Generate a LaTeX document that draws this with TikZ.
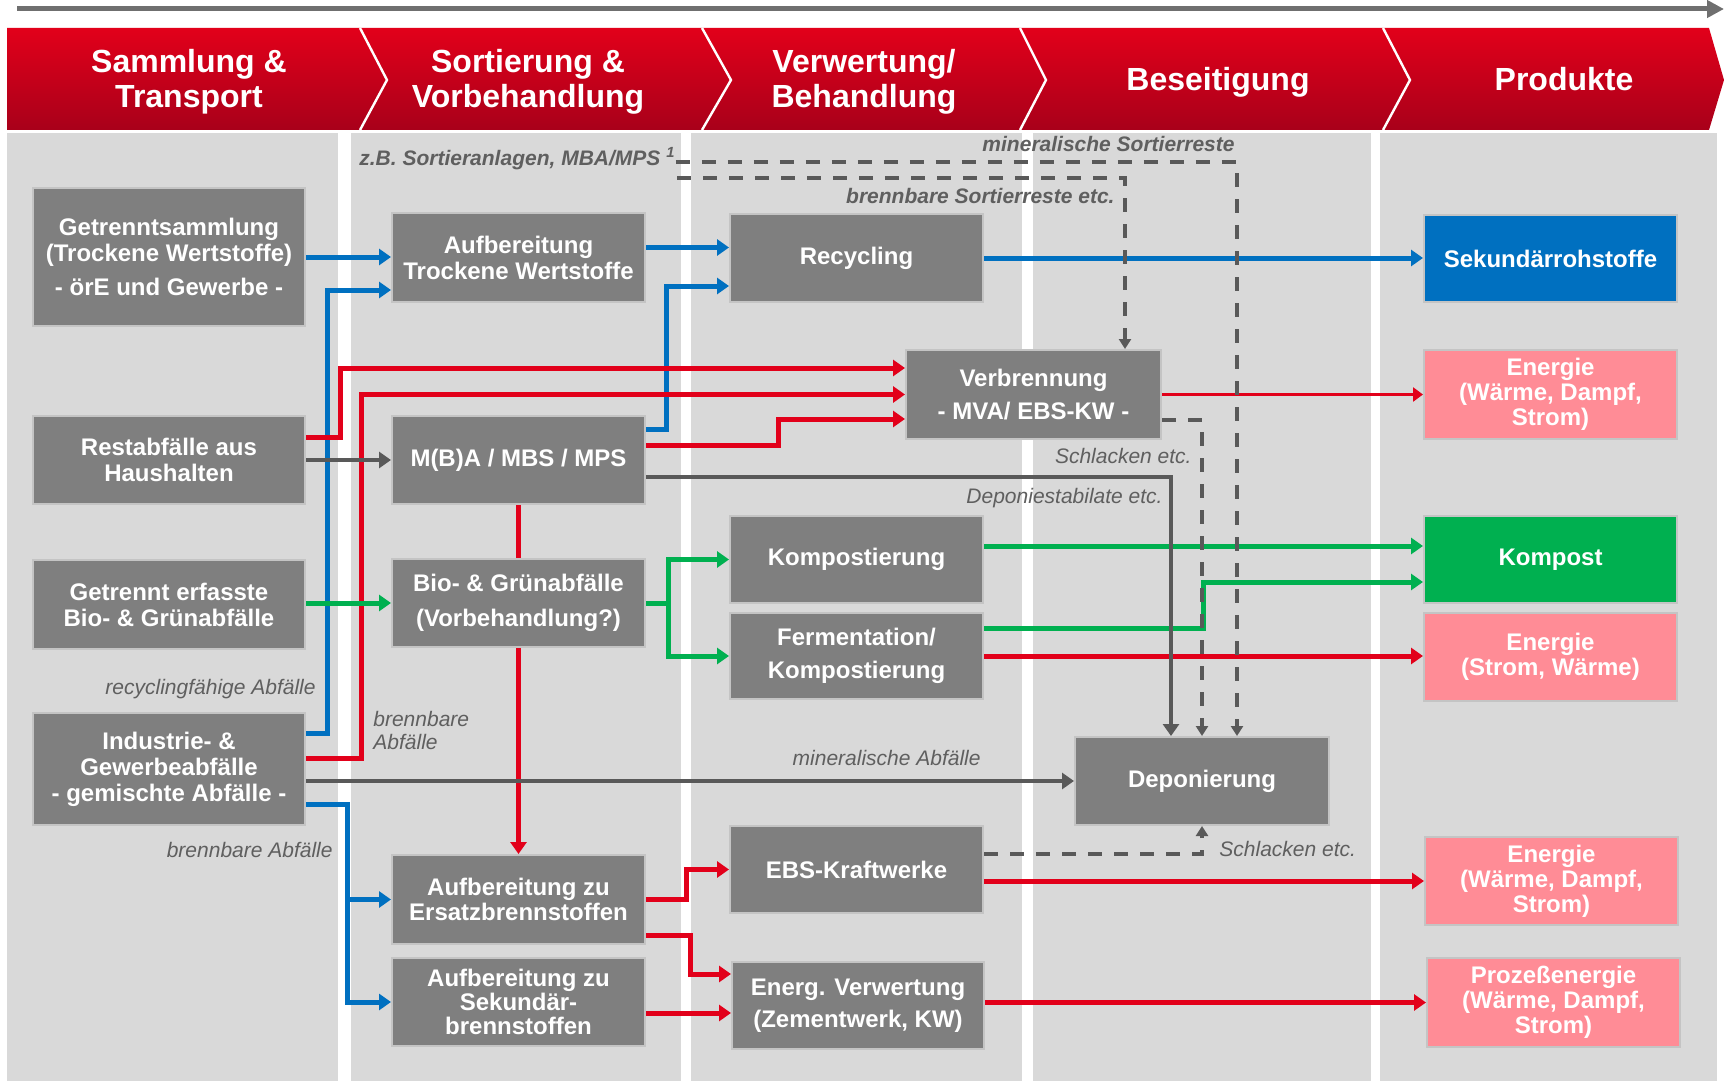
\documentclass[tikz,border=0pt]{standalone}
\usepackage{fontspec}
\setmainfont{Liberation Sans}
\usetikzlibrary{arrows.meta}

\definecolor{panelgray}{HTML}{D9D9D9}
\definecolor{boxgray}{HTML}{7F7F7F}
\definecolor{edgegray}{HTML}{C4C4C4}
\definecolor{linegray}{HTML}{595959}
\definecolor{notegray}{HTML}{5F5F5F}
\definecolor{timegray}{HTML}{6F6F6F}
\definecolor{flowred}{HTML}{E2001A}
\definecolor{flowblue}{HTML}{0070C0}
\definecolor{flowgreen}{HTML}{00B050}
\definecolor{pinkbox}{HTML}{FF8C96}
\definecolor{bannertop}{HTML}{E2001A}
\definecolor{bannerbot}{HTML}{A8001A}

\pgfdeclarelayer{panels}
\pgfdeclarelayer{links}
\pgfsetlayers{panels,links,main}

\begin{document}
\begin{tikzpicture}[x=0.5pt, y=-0.5pt,
  box/.style={draw=edgegray, line width=1pt, fill=boxgray, text=white,
    font=\bfseries\fontsize{12}{13}\selectfont, align=center, inner sep=0pt},
  product/.style={box, fill=pinkbox, font=\bfseries\fontsize{12}{12.4}\selectfont},
  tight/.style={font=\bfseries\fontsize{12}{12.2}\selectfont},
  phase/.style={text=white, font=\bfseries\fontsize{16}{17.5}\selectfont, align=center},
  note/.style={text=notegray, inner sep=0pt, font=\itshape\fontsize{10.5}{11.5}\selectfont},
  bnote/.style={note, font=\bfseries\itshape\fontsize{10.5}{11.5}\selectfont},
  flow/.style={line width=2.5pt, -{Triangle[width=8pt,length=6pt]}},
  blueflow/.style={flow, draw=flowblue},
  redflow/.style={flow, draw=flowred},
  greenflow/.style={flow, draw=flowgreen},
  grayflow/.style={flow, line width=2.3pt, draw=linegray},
  dashflow/.style={line width=2pt, draw=linegray, dash pattern=on 7pt off 6pt,
    -{Triangle[width=6pt,length=5pt]}},
]
\useasboundingbox (0,0) rectangle (1725,1081);

% panels and banner
\begin{pgfonlayer}{panels}
  \fill[panelgray] (7,133) rectangle (338,1081);
  \fill[panelgray] (351,133) rectangle (681,1081);
  \fill[panelgray] (691,133) rectangle (1022,1081);
  \fill[panelgray] (1033,133) rectangle (1371,1081);
  \fill[panelgray] (1380,133) rectangle (1717,1081);
  \shade[top color=bannertop, bottom color=bannerbot]
    (7,28) -- (360,28) -- (387,80) -- (360,130) -- (7,130) -- cycle;
  \shade[top color=bannertop, bottom color=bannerbot]
    (360,28) -- (702,28) -- (731,80) -- (702,130) -- (360,130) -- (387,80) -- cycle;
  \shade[top color=bannertop, bottom color=bannerbot]
    (702,28) -- (1020,28) -- (1046,80) -- (1020,130) -- (702,130) -- (731,80) -- cycle;
  \shade[top color=bannertop, bottom color=bannerbot]
    (1020,28) -- (1383,28) -- (1410,80) -- (1383,130) -- (1020,130) -- (1046,80) -- cycle;
  \shade[top color=bannertop, bottom color=bannerbot]
    (1383,28) -- (1709,28) -- (1724,80) -- (1709,130) -- (1383,130) -- (1410,80) -- cycle;
  \draw[white, line width=1.2pt] (360,28) -- (387,80) -- (360,130);
  \draw[white, line width=1.2pt] (702,28) -- (731,80) -- (702,130);
  \draw[white, line width=1.2pt] (1020,28) -- (1046,80) -- (1020,130);
  \draw[white, line width=1.2pt] (1383,28) -- (1410,80) -- (1383,130);
\end{pgfonlayer}

\coordinate (tl) at (17,9);
\coordinate (tr) at (1724,9);
\draw[timegray, line width=2.5pt, -{Triangle[width=8.5pt,length=8.5pt]}] (tl) -- (tr);

\node[phase] (sammlung) at (189,81.5) {Sammlung \&\\Transport};
\node[phase] (sortierung) at (528,81.5) {Sortierung \&\\Vorbehandlung};
\node[phase] (verwertung) at (864,81.5) {Verwertung/\\Behandlung};
\node[phase, anchor=base] (beseitigung) at (1218,90.5) {Beseitigung};
\node[phase, anchor=base] (produkte) at (1564,90.5) {Produkte};

% sources
\node[box, minimum width=136pt, minimum height=69pt] (getr) at (169,257)
  {Getrenntsammlung\\(Trockene Wertstoffe)\\[4pt]- örE und Gewerbe -};
\node[box, minimum width=136pt, minimum height=44pt] (rest) at (169,460)
  {Restabfälle aus\\Haushalten};
\node[box, minimum width=136pt, minimum height=44.5pt] (bioin) at (169,604.5)
  {Getrennt erfasste\\Bio- \& Grünabfälle};
\node[box, minimum width=136pt, minimum height=56pt] (indu) at (169,769)
  {Industrie- \&\\Gewerbeabfälle\\- gemischte Abfälle -};

% sorting
\node[box, minimum width=126.5pt, minimum height=44.5pt] (trocken) at (518.5,257.5)
  {Aufbereitung\\Trockene Wertstoffe};
\node[box, minimum width=126.5pt, minimum height=44pt] (mba) at (518.5,460)
  {M(B)A / MBS / MPS};
\node[box, minimum width=126.5pt, minimum height=44pt] (bio) at (518.5,603)
  {Bio- \& Grünabfälle\\[4.5pt](Vorbehandlung?)};
\node[box, tight, minimum width=126.5pt, minimum height=44.5pt] (ersatz) at (518.5,899.5)
  {Aufbereitung zu\\Ersatzbrennstoffen};
\node[box, tight, minimum width=126.5pt, minimum height=44pt] (sekbr) at (518.5,1002)
  {Aufbereitung zu\\Sekundär-\\brennstoffen};

% treatment
\node[box, minimum width=126.5pt, minimum height=44pt] (recyc) at (856.5,258) {Recycling};
\node[box, minimum width=127.5pt, minimum height=44.5pt] (verbr) at (1033.5,394.5)
  {Verbrennung\\[3.5pt]- MVA/ EBS-KW -};
\node[box, minimum width=126.5pt, minimum height=43.5pt] (kompo) at (856.5,559.5) {Kompostierung};
\node[box, minimum width=126.5pt, minimum height=43pt] (ferm) at (856.5,656)
  {Fermentation/\\[3.5pt]Kompostierung};
\node[box, minimum width=126.5pt, minimum height=43.5pt] (ebs) at (856.5,869.5) {EBS-Kraftwerke};
\node[box, minimum width=126pt, minimum height=43.5pt] (energ) at (858,1005.5)
  {Energ. Verwertung\\[3pt](Zementwerk, KW)};

% disposal
\node[box, minimum width=127pt, minimum height=44pt] (depon) at (1202,781) {Deponierung};

% products
\node[box, fill=flowblue, minimum width=126.5pt, minimum height=43.5pt] (sek) at (1550.5,258.5)
  {Sekundärrohstoffe};
\node[product, minimum width=126.5pt, minimum height=44.5pt] (en1) at (1550.5,394.5)
  {Energie\\(Wärme, Dampf,\\Strom)};
\node[box, fill=flowgreen, minimum width=126.5pt, minimum height=43.5pt] (kompost) at (1550.5,559.5)
  {Kompost};
\node[product, minimum width=126.5pt, minimum height=44pt] (en2) at (1550.5,657)
  {Energie\\(Strom, Wärme)};
\node[product, minimum width=126.5pt, minimum height=44pt] (en3) at (1551.5,881)
  {Energie\\(Wärme, Dampf,\\Strom)};
\node[product, minimum width=126.5pt, minimum height=44.5pt] (proz) at (1553.5,1002.5)
  {Prozeßenergie\\(Wärme, Dampf,\\Strom)};

% labels
\node[bnote, anchor=base west] (zb) at (359,165) {z.B. Sortieranlagen, MBA/MPS \textsuperscript{1}};
\node[bnote, anchor=base east] (minsort) at (1235,152) {mineralische Sortierreste};
\node[bnote, anchor=base east] (brsort) at (1115,204) {brennbare Sortierreste etc.};
\node[note, anchor=base east] (recyl) at (316,694) {recyclingfähige Abfälle};
\node[note, anchor=north west, align=left] (brab) at (373,711) {brennbare\\Abfälle};
\node[note, anchor=base east] (brab2) at (333,857) {brennbare Abfälle};
\node[note, anchor=base east] (minab) at (981,765) {mineralische Abfälle};
\node[note, anchor=base east] (depst) at (1163,503) {Deponiestabilate etc.};
\node[note, anchor=base east] (schl1) at (1192,463) {Schlacken etc.};
\node[note, anchor=base west] (schl2) at (1219,856) {Schlacken etc.};

\coordinate (brs) at (677,178);

\begin{pgfonlayer}{links}
  % blue
  \draw[blueflow] (getr.east) -- (getr.east -| trocken.west);
  \draw[blueflow] ([yshift=18pt]indu.east) -- ++(21,0) |- ([yshift=-16.25pt]trocken.west);
  \draw[blueflow] ([yshift=15.5pt]mba.east) -- ++(20,0) |- ([yshift=-14pt]recyc.west);
  \draw[blueflow] ([yshift=5pt]trocken.east) -- ([yshift=5pt]trocken.east -| recyc.west);
  \draw[blueflow] (recyc.east) -- (recyc.east -| sek.west);
  \draw[blueflow] ([yshift=-17.5pt]indu.east) -| ([xshift=-22pt]sekbr.west) -- (sekbr.west);
  \draw[blueflow] ([xshift=-22pt]ersatz.west) -- (ersatz.west);
  % red
  \draw[redflow] ([yshift=11.5pt]rest.east) -- ++(34,0) |- ([yshift=13.25pt]verbr.west);
  \draw[redflow] ([yshift=5.5pt]indu.east) -- ++(55,0) |- (verbr.west);
  \draw[redflow] ([yshift=7.5pt]mba.east) -- ++(132,0) |- ([yshift=-12.25pt]verbr.west);
  \draw[redflow, line width=1.5pt, -{Triangle[width=7pt,length=5pt]}] (verbr.east) -- (verbr.east -| en1.west);
  \draw[redflow] (mba.south) -- (ersatz.north);
  \draw[redflow] (ersatz.east) -- ++(40,0) |- (ebs.west);
  \draw[redflow] ([yshift=-17.75pt]ersatz.east) -- ++(44,0) |- ([yshift=15.75pt]energ.west);
  \draw[redflow] ([yshift=-5.5pt]sekbr.east) -- ([yshift=-5.5pt]sekbr.east -| energ.west);
  \draw[redflow] (ferm.east) -- (ferm.east -| en2.west);
  \draw[redflow] ([yshift=-5.75pt]ebs.east) -- (en3.west);
  \draw[redflow] (proz.west -| energ.east) -- (proz.west);
  % green
  \draw[greenflow] (bio.west -| bioin.east) -- (bio.west);
  \draw[greenflow] (bio.east) -- ++(22,0) |- (kompo.west);
  \draw[greenflow] (bio.east) -- ++(22,0) |- (ferm.west);
  \draw[greenflow] ([yshift=6.75pt]kompo.east) -- ([yshift=6.75pt]kompost.west);
  \draw[greenflow] ([yshift=14pt]ferm.east) -- ++(219,0) |- ([yshift=-11.25pt]kompost.west);
  % gray
  \draw[grayflow] (rest.east) -- (mba.west);
  \draw[grayflow] ([yshift=-8.5pt]mba.east) -| ([xshift=-15.5pt]depon.north);
  \draw[grayflow] (depon.west -| indu.east) -- (depon.west);
  % dashed
  \draw[dashflow] ([yshift=-2pt]zb.east) -| ([xshift=17.5pt]depon.north);
  \draw[dashflow] (brs) -| ([xshift=45.75pt]verbr.north);
  \draw[dashflow] ([yshift=-12.75pt]verbr.east) -| (depon.north);
  \draw[dashflow] ([yshift=7.75pt]ebs.east) -| (depon.south);
\end{pgfonlayer}
\end{tikzpicture}
\end{document}
